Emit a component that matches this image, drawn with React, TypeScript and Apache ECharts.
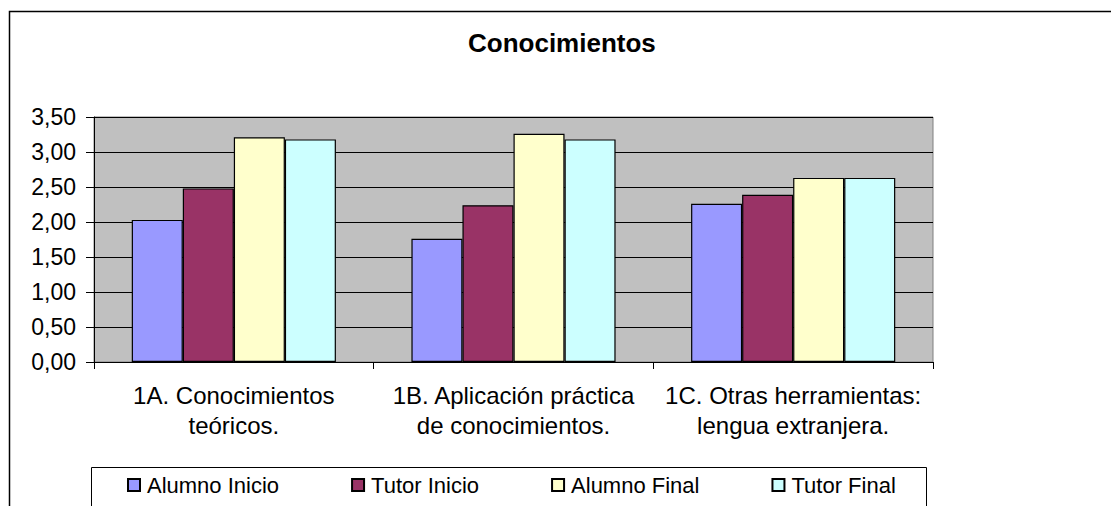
import React, { useEffect, useRef } from "react";
import * as echarts from "echarts";

const title = "Conocimientos";
const categories = [
  "1A. Conocimientos\nteóricos.",
  "1B. Aplicación práctica\nde conocimientos.",
  "1C. Otras herramientas:\nlengua extranjera.",
];
const seriesNames = ["Alumno Inicio", "Tutor Inicio", "Alumno Final", "Tutor Final"];
const alumnoInicio = [2.03, 1.76, 2.26];
const tutorInicio = [2.48, 2.24, 2.39];
const alumnoFinal = [3.21, 3.26, 2.63];
const tutorFinal = [3.18, 3.18, 2.63];
const seriesColors = ["#9999FF", "#993366", "#FFFFCC", "#CCFFFF"];
const yMin = 0;
const yMax = 3.5;
const yInterval = 0.5;

const FONT = "'Liberation Sans', Arial, sans-serif";

export default function App() {
  const ref = useRef<HTMLDivElement>(null);
  useEffect(() => {
    if (!ref.current) return;
    const chart = echarts.init(ref.current, undefined, { renderer: "svg" });
    const values = [alumnoInicio, tutorInicio, alumnoFinal, tutorFinal];
    chart.setOption({
      animation: false,
      backgroundColor: "#ffffff",
      textStyle: { fontFamily: FONT, color: "#000" },
      title: {
        text: title,
        left: 468,
        top: 30,
        padding: 0,
        textStyle: { fontFamily: FONT, fontSize: 26, fontWeight: "bold", color: "#000" },
      },
      legend: {
        left: 127,
        top: 474,
        padding: 0,
        itemWidth: 16,
        itemHeight: 12,
        itemGap: 72,
        symbolKeepAspect: true,
        icon: "path://M0,0H12V12H0Z",
        textStyle: { fontFamily: FONT, fontSize: 22, color: "#000" },
        data: seriesNames,
      },
      grid: {
        left: 94,
        right: 178,
        top: 117,
        bottom: 144,
        show: true,
        backgroundColor: "#C0C0C0",
        borderColor: "#808080",
        borderWidth: 1,
        containLabel: false,
      },
      xAxis: {
        type: "category",
        data: categories,
        axisLine: { show: true, lineStyle: { color: "#000", width: 1 } },
        axisTick: { show: true, length: 7, inside: false, lineStyle: { color: "#000" } },
        axisLabel: {
          fontFamily: FONT,
          fontSize: 24,
          lineHeight: 30,
          color: "#000",
          margin: 18,
          interval: 0,
        },
        splitLine: { show: false },
      },
      yAxis: {
        type: "value",
        min: yMin,
        max: yMax,
        interval: yInterval,
        axisLine: { show: true, lineStyle: { color: "#000", width: 1 } },
        axisTick: { show: true, length: 8, inside: false, lineStyle: { color: "#000" } },
        axisLabel: {
          fontFamily: FONT,
          fontSize: 23,
          color: "#000",
          margin: 18,
          formatter: (v: number) => v.toFixed(2).replace(".", ","),
        },
        splitLine: { show: true, lineStyle: { color: "#000", width: 1 } },
      },
      series: seriesNames.map((name, i) => ({
        name,
        type: "bar",
        data: values[i],
        barGap: "0%",
        barCategoryGap: "27%",
        itemStyle: { color: seriesColors[i], borderColor: "#000", borderWidth: 1.2 },
      })),
      graphic: [
        {
          type: "rect",
          silent: true,
          z: -1,
          shape: { x: 9.5, y: 11.5, width: 1300, height: 700 },
          style: { fill: "transparent", stroke: "#000", lineWidth: 1.5 },
        },
        {
          type: "rect",
          silent: true,
          z: -1,
          shape: { x: 91.5, y: 467.5, width: 835, height: 100 },
          style: { fill: "transparent", stroke: "#000", lineWidth: 1 },
        },
      ],
    });
    return () => chart.dispose();
  }, []);
  return (
    <div
      ref={ref}
      style={{ position: "absolute", left: 0, top: 0, width: 1111, height: 506 }}
    />
  );
}
